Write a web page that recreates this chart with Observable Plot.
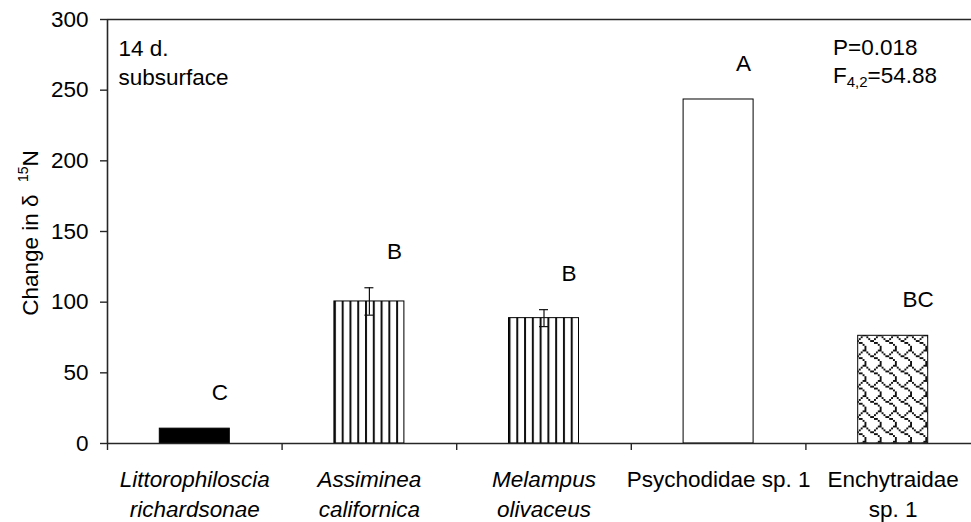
<!DOCTYPE html>
<html><head><meta charset="utf-8">
<script src="https://cdn.jsdelivr.net/npm/d3@7"></script>
<script src="https://cdn.jsdelivr.net/npm/@observablehq/plot@0.6"></script>
<style>
html,body{margin:0;padding:0;background:#fff;overflow:hidden;}
#chart svg{display:block;max-width:none !important;}
</style></head><body><div id="chart"></div>
<script>
const categories = ["Littorophiloscia richardsonae", "Assiminea californica", "Melampus olivaceus", "Psychodidae sp. 1", "Enchytraidae sp. 1"];
const labelLines = ["Littorophiloscia\nrichardsonae", "Assiminea\ncalifornica", "Melampus\nolivaceus", "Psychodidae sp. 1", "Enchytraidae\nsp. 1"];
const italicLabel = [true, true, true, false, false];
const values = [10.5, 100.5, 88.7, 243.4, 76.2];
const errors = [0, 9.7, 6.0, 0, 0];
const letters = ["C", "B", "B", "A", "BC"];
const fillKind = ["solid", "stripes", "stripes", "empty", "shingle"];
const yTicks = [0, 50, 100, 150, 200, 250, 300];
const xBoundaries = [0, 1, 2, 3, 4, 5];

const rows = categories.map((c, i) => ({
  i, category: c, label: labelLines[i], italic: italicLabel[i],
  value: values[i], se: errors[i], letter: letters[i], kind: fillKind[i]
}));
const fillFor = {solid: "#000", stripes: "url(#vstripes)", empty: "#fff", shingle: "url(#shingle)"};

const FONT = "'Liberation Sans', Arial, Helvetica, sans-serif";
const FS = 22.5;
const AX = "#262626";

const marks = [];
for (const k of Object.keys(fillFor)) {
  const sub = rows.filter(d => d.kind === k);
  if (!sub.length) continue;
  marks.push(Plot.rectY(sub, {x1: "i", x2: d => d.i + 1, y: "value", insetLeft: 52.3, insetRight: 52.3,
    fill: fillFor[k], stroke: "#000", strokeWidth: 1}));
}
const errRows = rows.filter(d => d.se > 0);
marks.push(
  Plot.ruleX(errRows, {x: d => d.i + 0.5, y1: d => d.value - d.se, y2: d => d.value + d.se, stroke: "#111", strokeWidth: 1.2}),
  Plot.ruleY(errRows, {x1: "i", x2: d => d.i + 1, y: d => d.value + d.se, insetLeft: 82.8, insetRight: 82.8, stroke: "#111", strokeWidth: 1.2}),
  Plot.ruleY(errRows, {x1: "i", x2: d => d.i + 1, y: d => d.value - d.se, insetLeft: 82.8, insetRight: 82.8, stroke: "#111", strokeWidth: 1.2}),
  Plot.ruleY([0], {stroke: AX, strokeWidth: 1.6}),
  Plot.ruleY([300], {stroke: AX, strokeWidth: 1.6}),
  Plot.ruleX([0], {stroke: AX, strokeWidth: 1.6}),
  Plot.axisY({ticks: yTicks, tickSize: 7, tickPadding: 12, label: null, fontSize: FS, stroke: AX, strokeWidth: 1.4}),
  Plot.axisX({ticks: xBoundaries, tickSize: 7, tickFormat: () => "", label: null, stroke: AX, strokeWidth: 1.4}),
  Plot.text(rows.filter(d => d.italic), {x: d => d.i + 0.5, y: 0, text: "label", fontStyle: "italic", lineAnchor: "top", dy: 23, lineHeight: 1.3, fontSize: FS, fill: "#000"}),
  Plot.text(rows.filter(d => !d.italic), {x: d => d.i + 0.5, y: 0, text: "label", lineAnchor: "top", dy: 23, lineHeight: 1.3, fontSize: FS, fill: "#000"}),
  Plot.text(rows, {x: d => d.i + 0.5, y: d => d.value + d.se, text: "letter", dx: 25, dy: -36, fontSize: FS, fill: "#000"}),
  Plot.text(["14 d.\nsubsurface"], {frameAnchor: "top-left", textAnchor: "start", lineAnchor: "top", dx: 11, dy: 17, lineHeight: 1.25, fontSize: FS, fill: "#000"})
);

const plot = Plot.plot({
  width: 980, height: 522,
  marginLeft: 107, marginRight: 0, marginTop: 19, marginBottom: 79,
  x: {domain: [0, categories.length], axis: null},
  y: {domain: [0, 300], axis: null},
  style: {fontFamily: FONT, fontSize: FS + "px", color: "#000", background: "#fff", maxWidth: "none"},
  marks
});
document.getElementById("chart").append(plot);

const svg = d3.select(plot);
const defs = svg.insert("defs", ":first-child");
const vs = defs.append("pattern").attr("id", "vstripes")
  .attr("patternUnits", "objectBoundingBox").attr("x", 0).attr("y", 0)
  .attr("width", 1 / 9).attr("height", 1);
vs.append("rect").attr("x", 0).attr("y", 0).attr("width", 7.8).attr("height", 600).attr("fill", "#fff");
vs.append("rect").attr("x", 0).attr("y", 0).attr("width", 2).attr("height", 600).attr("fill", "#111");

const shingleBits = [0x03, 0x84, 0x48, 0x30, 0x0c, 0x02, 0x01, 0x01];
const px = 1.9;
const sh = defs.append("pattern").attr("id", "shingle").attr("patternUnits", "userSpaceOnUse")
  .attr("width", 8 * px).attr("height", 8 * px);
sh.append("rect").attr("width", 8 * px).attr("height", 8 * px).attr("fill", "#fff");
shingleBits.forEach((b, r) => {
  for (let c = 0; c < 8; c++) {
    if (b & (0x80 >> c)) sh.append("rect").attr("x", c * px).attr("y", r * px).attr("width", px).attr("height", px).attr("fill", "#111");
  }
});

// y-axis title with superscript
const yt = svg.append("text").attr("transform", "translate(38,233) rotate(-90)")
  .attr("text-anchor", "middle").attr("font-family", FONT).attr("font-size", FS).attr("fill", "#000");
yt.append("tspan").text("Change in δ  ");
yt.append("tspan").attr("font-size", 14).attr("dy", -10).text("15");
yt.append("tspan").attr("dy", 10).text("N");

// statistics annotation
const st = svg.append("g").attr("font-family", FONT).attr("font-size", FS).attr("fill", "#000").attr("text-anchor", "start");
st.append("text").attr("x", 833).attr("y", 55).text("P=0.018");
const f = st.append("text").attr("x", 833).attr("y", 83);
f.append("tspan").text("F");
f.append("tspan").attr("font-size", 15).attr("dy", 4).text("4,2");
f.append("tspan").attr("dy", -4).text("=54.88");
</script>
</body></html>
